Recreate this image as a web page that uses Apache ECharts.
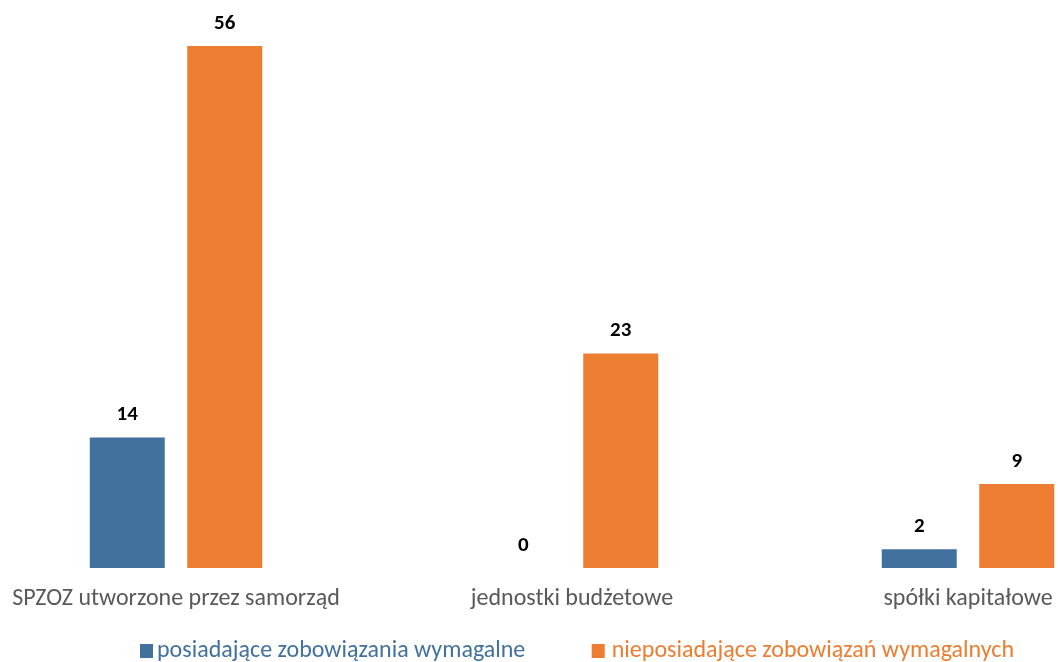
<!DOCTYPE html>
<html>
<head>
<meta charset="utf-8">
<script src="https://cdn.jsdelivr.net/npm/echarts@6/dist/echarts.min.js"></script>
<style>
  html, body { margin: 0; padding: 0; background: #fff; overflow: hidden; }
  /* wider canvas shifted left: the right-hand bars sit at the page edge */
  #chart { width: 1188px; height: 662px; margin-left: -22px; }
</style>
</head>
<body>
<div id="chart"></div>
<script>
const categories = ['SPZOZ utworzone przez samorząd', 'jednostki budżetowe', 'spółki kapitałowe'];
const seriesNames = ['posiadające zobowiązania wymagalne', 'nieposiadające zobowiązań wymagalnych'];
const withLiabilities = [14, 0, 2];
const withoutLiabilities = [56, 23, 9];

const FONT = 'Carlito, "Noto Sans", sans-serif';
const BLUE = '#41719c';
const ORANGE = '#ed7d31';

const labelOption = {
  show: true,
  position: 'top',
  distance: 12,
  color: '#000',
  fontWeight: 'bold',
  fontSize: 21,
  fontFamily: FONT,
};

const legendBase = {
  top: 639,
  padding: 0,
  itemWidth: 13,
  itemHeight: 14,
  itemGap: 0,
  icon: 'rect',
};

const myChart = echarts.init(document.getElementById('chart'));

myChart.setOption({
  animation: false,
  legend: [
    {
      ...legendBase,
      left: 162,
      data: [seriesNames[0]],
      textStyle: { color: BLUE, fontSize: 24, fontFamily: FONT, padding: [0, 0, 0, -1] },
    },
    {
      ...legendBase,
      right: 152,
      data: [seriesNames[1]],
      textStyle: { color: ORANGE, fontSize: 24, fontFamily: FONT, padding: [0, 0, 0, 2] },
    },
  ],
  grid: {
    left: 0,
    right: 0,
    top: 46,
    bottom: 94,
  },
  xAxis: {
    type: 'category',
    data: categories,
    axisLine: { show: false },
    axisTick: { show: false },
    axisLabel: { interval: 0, color: '#595959', fontSize: 24, fontFamily: FONT, margin: 19 },
  },
  yAxis: {
    type: 'value',
    min: 0,
    max: 56,
    show: false,
    splitLine: { show: false },
  },
  series: [
    {
      name: seriesNames[0],
      type: 'bar',
      data: withLiabilities,
      barWidth: 75,
      barGap: '30%',
      itemStyle: { color: BLUE },
      label: labelOption,
    },
    {
      name: seriesNames[1],
      type: 'bar',
      data: withoutLiabilities,
      barWidth: 75,
      itemStyle: { color: ORANGE },
      label: labelOption,
    },
  ],
});
</script>
</body>
</html>
